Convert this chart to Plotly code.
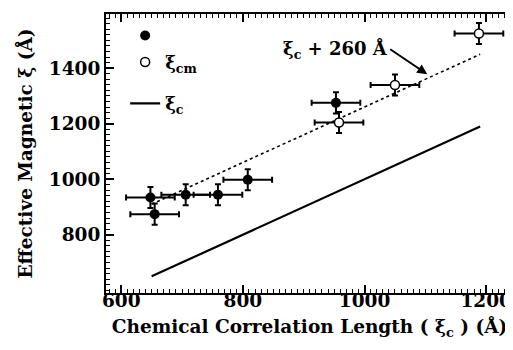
import plotly.graph_objects as go

# Data
filled_x = [648, 655, 706, 759, 808, 953]
filled_y = [934, 874, 944, 944, 998, 1275]
open_x = [958, 1050, 1188]
open_y = [1204, 1339, 1525]
x_err = 40
y_err = 38
line_x = [650, 1190]
offset = 260

x_labels = [600, 800, 1000, 1200]
x_mid_ticks = [600, 650, 700, 750, 800, 850, 900, 950, 1000, 1050, 1100, 1150, 1200]
y_labels = [800, 1000, 1200, 1400]
y_mid_ticks = [600, 700, 800, 900, 1000, 1100, 1200, 1300, 1400, 1500]

X_RANGE = [575, 1244]
Y_RANGE = [590, 1595]

FONT = "DejaVu Serif"
TFONT = dict(family=FONT, size=18, color="black", weight="bold")
TICKFONT = dict(family=FONT, size=18.5, color="black", weight="bold")
TITLEFONT = dict(family=FONT, size=18.5, color="black", weight="bold")
fig = go.Figure()

err_style = dict(type="constant", thickness=2, width=3, color="black")

fig.add_trace(go.Scatter(
    x=line_x, y=[v + offset for v in line_x], mode="lines",
    line=dict(color="black", width=1.6, dash="dot"), showlegend=False))
fig.add_trace(go.Scatter(
    x=line_x, y=line_x, mode="lines",
    line=dict(color="black", width=2.2), showlegend=False))
fig.add_trace(go.Scatter(
    x=filled_x, y=filled_y, mode="markers",
    marker=dict(symbol="circle", size=10, color="black"),
    error_x=dict(value=x_err, **err_style),
    error_y=dict(value=y_err, **err_style), showlegend=False))
fig.add_trace(go.Scatter(
    x=open_x, y=open_y, mode="markers",
    marker=dict(symbol="circle", size=9, color="white",
                line=dict(color="black", width=1.5)),
    error_x=dict(value=x_err, **err_style),
    error_y=dict(value=y_err, **err_style), showlegend=False))

# legend-only entries
fig.add_trace(go.Scatter(x=[None], y=[None], mode="markers", name=" ",
                         marker=dict(symbol="circle", size=10, color="black"),
                         legendgroup="a"))
fig.add_trace(go.Scatter(x=[None], y=[None], mode="markers", name="ξ<sub>cm</sub>",
                         marker=dict(symbol="circle", size=9, color="white",
                                     line=dict(color="black", width=1.5)),
                         legendgroup="a"))
fig.add_trace(go.Scatter(x=[None], y=[None], mode="lines", name="ξ<sub>c</sub>",
                         line=dict(color="black", width=2.2), legendgroup="b"))

fig.add_annotation(
    x=1103, y=1378, ax=-37, ay=-25, xanchor="right", yanchor="middle",
    text="ξ<sub>c</sub> + 260 Å", showarrow=True, arrowhead=2,
    arrowsize=1, arrowwidth=2, arrowcolor="black", font=TFONT)

axis_common = dict(
    showline=True, linecolor="black", linewidth=2, ticks="inside",
    ticklen=8, tickwidth=1.5, tickcolor="black", showgrid=False,
    zeroline=False, tickfont=TICKFONT, automargin=False,
    ticklabeloverflow="allow")

fig.update_xaxes(
    range=X_RANGE, tickmode="array", tickvals=x_labels,
    mirror="allticks", ticklabelstandoff=-10,
    minor=dict(dtick=10, ticks="inside", ticklen=4, tickwidth=1.2,
               tickcolor="black", showgrid=False),
    title=dict(text="Chemical Correlation Length ( ξ<sub>c</sub> ) (Å)",
               font=TITLEFONT, standoff=10),
    **axis_common)
fig.update_yaxes(
    range=Y_RANGE, tickmode="array", tickvals=y_labels, mirror=False,
    minor=dict(dtick=20, ticks="inside", ticklen=4, tickwidth=1.2,
               tickcolor="black", showgrid=False),
    title=dict(text="Effective Magnetic ξ (Å)", font=TITLEFONT, standoff=11),
    **axis_common)

# medium-length ticks on overlaying axes (no labels)
fig.update_layout(
    xaxis2=dict(overlaying="x", anchor="y", side="bottom", range=X_RANGE,
                tickmode="array", tickvals=x_mid_ticks, ticks="inside",
                ticklen=7, tickwidth=1.3, tickcolor="black",
                showticklabels=False, showline=False, showgrid=False,
                zeroline=False, mirror="ticks"),
    yaxis2=dict(overlaying="y", anchor="x", side="left", range=Y_RANGE,
                tickmode="array", tickvals=y_mid_ticks, ticks="inside",
                ticklen=6, tickwidth=1.3, tickcolor="black",
                showticklabels=False, showline=False, showgrid=False,
                zeroline=False),
)

fig.update_layout(
    width=505, height=342,
    margin=dict(l=98, r=0, t=6, b=57),
    plot_bgcolor="white", paper_bgcolor="white",
    font=TFONT,
    legend=dict(x=0.047, y=0.988, xanchor="left", yanchor="top",
                bgcolor="rgba(0,0,0,0)", tracegroupgap=15, font=TFONT),
)

fig.write_html("out.html")
